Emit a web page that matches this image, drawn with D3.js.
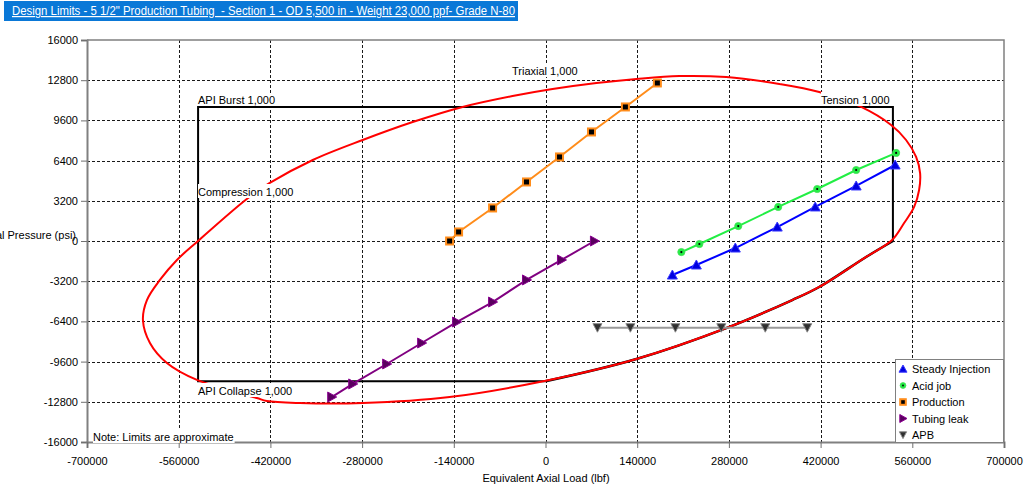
<!DOCTYPE html>
<html>
<head>
<meta charset="utf-8">
<script src="https://cdn.jsdelivr.net/npm/d3@7"></script>
<style>
  html, body { margin: 0; padding: 0; background: #fff; }
  svg { display: block; font-family: "Liberation Sans", Arial, sans-serif; }
</style>
</head>
<body>
<svg id="chart" width="1025" height="491"></svg>
<script>
// ---------- axis ticks ----------
const loadTicks = [-700000, -560000, -420000, -280000, -140000, 0, 140000, 280000, 420000, 560000, 700000];
const pressureTicks = [-16000, -12800, -9600, -6400, -3200, 0, 3200, 6400, 9600, 12800, 16000];

// ---------- load cases (axial load lbf, differential pressure psi) ----------
const steadyInjectionLoad     = [193700, 230300, 289800, 353800, 411800, 474300, 533800];
const steadyInjectionPressure = [-2710, -1910, -560, 1110, 2710, 4380, 6050];

const acidJobLoad     = [207400, 234900, 294300, 355300, 414800, 474300, 535300];
const acidJobPressure = [-880, -240, 1190, 2710, 4140, 5650, 7010];

const productionLoad     = [-146400, -132700, -80800, -29000, 21400, 70200, 122000, 170800];
const productionPressure = [0, 720, 2630, 4700, 6690, 8680, 10670, 12580];

const tubingLeakLoad     = [-326400, -294300, -242500, -189100, -135700, -80800, -29000, 24400, 74700];
const tubingLeakPressure = [-12420, -11380, -9790, -8120, -6450, -4860, -3100, -1510, 0];

const apbLoad     = [79300, 129600, 198300, 268400, 335500, 399600];
const apbPressure = [-6900, -6900, -6900, -6900, -6900, -6900];

// ---------- design limits ----------
// Triaxial (von Mises) envelope, traced around its closed outline
const triaxialLoad = [
  -532200, -562700, -588700, -608500, -614600, -603900, -578000, -532200,
  -440700, -425500, -375200, -279100, -146400, -1500, 138800, 276000,
  376700, 417900, 489500, 529200, 547500, 562800, 570400, 571900,
  565800, 550500, 527700, 481900, 417900, 356900, 276000, 204400,
  138800, 77800, 10700, -50300, -126600, -202800, -279100, -355300,
  -420900, -456000
];
const triaxialPressure = [
  -80, -1510, -3100, -4700, -6290, -8120, -9710, -11060,
  -12500, -12740, -12900, -12900, -12420, -11140, -9390, -6930,
  -4700, -3660, -1270, 80, 1430, 2710, 4060, 5410,
  6690, 8040, 9230, 10670, 11860, 12500, 13050, 13130,
  12900, 12580, 12100, 11540, 10670, 9470, 8040, 6450,
  4620, 3340
];

// API envelope, rectangular part: collapse end -> compression -> burst -> tension
const apiRectLoad     = [0, -530400, -530400, 530400, 530400];
const apiRectPressure = [-11160, -11160, 10670, 10670, 0];
// API collapse with tension reduction, from the tension limit back to zero load
const apiCollapseLoad     = [530400, 489500, 417900, 376700, 276000, 138800, 0];
const apiCollapsePressure = [0, -1270, -3660, -4700, -6930, -9390, -11160];

const limitLabels = ["Triaxial 1,000", "API Burst 1,000", "Compression 1,000", "Tension 1,000", "API Collapse 1,000"];

const titleText = "Design Limits - 5 1/2\" Production Tubing  - Section 1 - OD 5,500 in - Weight 23,000 ppf- Grade N-80";

// ---------- layout ----------
const svg = d3.select("#chart");
const plot = { left: 87, right: 1004, top: 40, bottom: 442 };

const x = d3.scaleLinear().domain([-700000, 700000]).range([plot.left, plot.right]);
const y = d3.scaleLinear().domain([-16000, 16000]).range([plot.bottom, plot.top]);
const px = v => Math.round(x(v)) + 0.5;
const py = v => Math.round(y(v)) + 0.5;

// title bar
svg.append("rect").attr("x", 4).attr("y", 1).attr("width", 514).attr("height", 20).attr("fill", "#0a78d7");
svg.append("text")
  .attr("x", 12).attr("y", 15)
  .attr("fill", "#fff").attr("font-size", 12)
  .attr("text-decoration", "underline")
  .attr("textLength", 503).attr("lengthAdjust", "spacingAndGlyphs")
  .style("white-space", "pre")
  .text(titleText);

// grid
const grid = svg.append("g").attr("stroke", "#1a1a1a").attr("stroke-width", 1)
  .attr("stroke-dasharray", "3,2").attr("shape-rendering", "crispEdges");
grid.selectAll("line.v").data(loadTicks.slice(1, -1)).join("line")
  .attr("x1", d => px(d)).attr("x2", d => px(d)).attr("y1", plot.top).attr("y2", plot.bottom);
grid.selectAll("line.h").data(pressureTicks.slice(1, -1)).join("line")
  .attr("y1", d => py(d)).attr("y2", d => py(d)).attr("x1", plot.left).attr("x2", plot.right);

// frame: top and right edges
svg.append("path")
  .attr("d", `M${plot.left},${plot.top} H${plot.right} V${plot.bottom}`)
  .attr("fill", "none").attr("stroke", "#808080").attr("stroke-width", 1.5);

// axes
const fmt = d => String(d);
const yAxis = svg.append("g").attr("transform", `translate(${plot.left},0)`)
  .call(d3.axisLeft(y).tickValues(pressureTicks).tickFormat(fmt).tickSizeOuter(0).tickSize(6).tickPadding(3));
const xAxis = svg.append("g").attr("transform", `translate(0,${plot.bottom})`)
  .call(d3.axisBottom(x).tickValues(loadTicks).tickFormat(fmt).tickSizeOuter(0).tickSize(6).tickPadding(9));
[yAxis, xAxis].forEach(a => {
  a.select(".domain").attr("stroke", "#808080").attr("stroke-width", 2);
  a.selectAll(".tick line").attr("stroke", "#707070");
  a.selectAll(".tick text").attr("fill", "#000").attr("font-size", 11)
    .attr("font-family", "'Liberation Sans', Arial, sans-serif");
});

// axis titles
svg.append("text").attr("x", 546).attr("y", 482).attr("text-anchor", "middle")
  .attr("font-size", 11).attr("fill", "#000").text("Equivalent Axial Load (lbf)");
svg.append("text").attr("x", 76).attr("y", 239).attr("text-anchor", "end")
  .attr("font-size", 11).attr("fill", "#000").text("Differential Pressure (psi)");

// design limit lines
const toPts = (xs, ys) => xs.map((v, i) => [v, ys[i]]);
const lineOf = curve => d3.line().x(d => x(d[0])).y(d => y(d[1])).curve(curve);

svg.append("path")
  .datum(toPts(apiRectLoad, apiRectPressure))
  .attr("d", lineOf(d3.curveLinear))
  .attr("fill", "none").attr("stroke", "#000").attr("stroke-width", 2).attr("stroke-linejoin", "miter");
svg.append("path")
  .datum(toPts(apiCollapseLoad, apiCollapsePressure))
  .attr("d", lineOf(d3.curveCatmullRom.alpha(0.5)))
  .attr("fill", "none").attr("stroke", "#000").attr("stroke-width", 2.5);

svg.append("path")
  .datum(toPts(triaxialLoad, triaxialPressure))
  .attr("d", lineOf(d3.curveCatmullRomClosed.alpha(0.5)))
  .attr("fill", "none").attr("stroke", "#ff0000").attr("stroke-width", 2);

// markers
function marker(g, type, s) {
  switch (type) {
    case "triUp":
      g.append("path").attr("d", `M0,${-5 * s} L${5 * s},${4 * s} L${-5 * s},${4 * s} Z`)
        .attr("fill", "#0000e0").attr("stroke", "#3a3aff").attr("stroke-width", 1);
      break;
    case "dot":
      g.append("circle").attr("r", 3.6 * s).attr("fill", "#22ee44").attr("stroke", "#44dd55").attr("stroke-width", 0.8);
      g.append("circle").attr("r", 1.1 * s).attr("fill", "#000");
      break;
    case "square":
      g.append("rect").attr("x", -3.5 * s).attr("y", -3.5 * s).attr("width", 7 * s).attr("height", 7 * s)
        .attr("fill", "#000").attr("stroke", "#ff8c1a").attr("stroke-width", 2);
      break;
    case "triRight":
      g.append("path").attr("d", `M${-4 * s},${-5 * s} L${5 * s},0 L${-4 * s},${5 * s} Z`)
        .attr("fill", "#5a005f").attr("stroke", "#8a0090").attr("stroke-width", 1);
      break;
    case "triDown":
      g.append("path").attr("d", `M${-4.5 * s},${-4 * s} L${4.5 * s},${-4 * s} L0,${4.5 * s} Z`)
        .attr("fill", "#303030").attr("stroke", "#888").attr("stroke-width", 1);
      break;
  }
}

const series = [
  { name: "Steady Injection", xs: steadyInjectionLoad, ys: steadyInjectionPressure, color: "#0000ff", marker: "triUp" },
  { name: "Acid job",         xs: acidJobLoad,         ys: acidJobPressure,         color: "#22ee44", marker: "dot" },
  { name: "Production",       xs: productionLoad,      ys: productionPressure,      color: "#ff8c1a", marker: "square" },
  { name: "Tubing leak",      xs: tubingLeakLoad,      ys: tubingLeakPressure,      color: "#800080", marker: "triRight" },
  { name: "APB",              xs: apbLoad,             ys: apbPressure,             color: "#999999", marker: "triDown" }
];

const straight = lineOf(d3.curveLinear);
series.forEach(s => {
  const pts = toPts(s.xs, s.ys);
  svg.append("path").datum(pts).attr("d", straight)
    .attr("fill", "none").attr("stroke", s.color).attr("stroke-width", 2);
  svg.append("g").selectAll("g").data(pts).join("g")
    .attr("transform", d => `translate(${x(d[0])},${y(d[1])})`)
    .each(function () { marker(d3.select(this), s.marker, 1); });
});

// limit labels on white boxes
function boxedLabel(txt, lx, ly, pad) {
  const g = svg.append("g");
  const t = g.append("text").attr("x", lx).attr("y", ly).attr("font-size", 11).attr("fill", "#000").text(txt);
  const b = t.node().getBBox();
  g.insert("rect", "text")
    .attr("x", b.x).attr("y", b.y - pad).attr("width", b.width + 1).attr("height", b.height + pad)
    .attr("fill", "#fff");
}
boxedLabel(limitLabels[0], 512, 75, 1);
boxedLabel(limitLabels[1], 198, 104, 1);
boxedLabel(limitLabels[2], 198, 196, 2);
boxedLabel(limitLabels[3], 821, 104, 2);
boxedLabel(limitLabels[4], 198, 395, 2);
boxedLabel("Note: Limits are approximate", 93, 441, 1);

// legend
const lg = svg.append("g");
lg.append("rect").attr("x", 895.5).attr("y", 359.5).attr("width", 108).attr("height", 83)
  .attr("fill", "#fff").attr("stroke", "#808080");
const rowY = [369, 385.5, 402, 418.5, 435];
series.forEach((s, i) => {
  const row = lg.append("g").attr("transform", `translate(903,${rowY[i]})`);
  marker(row, s.marker, 0.8);
  row.append("text").attr("x", 9).attr("y", 4).attr("font-size", 11).attr("fill", "#000").text(s.name);
});
</script>
</body>
</html>
